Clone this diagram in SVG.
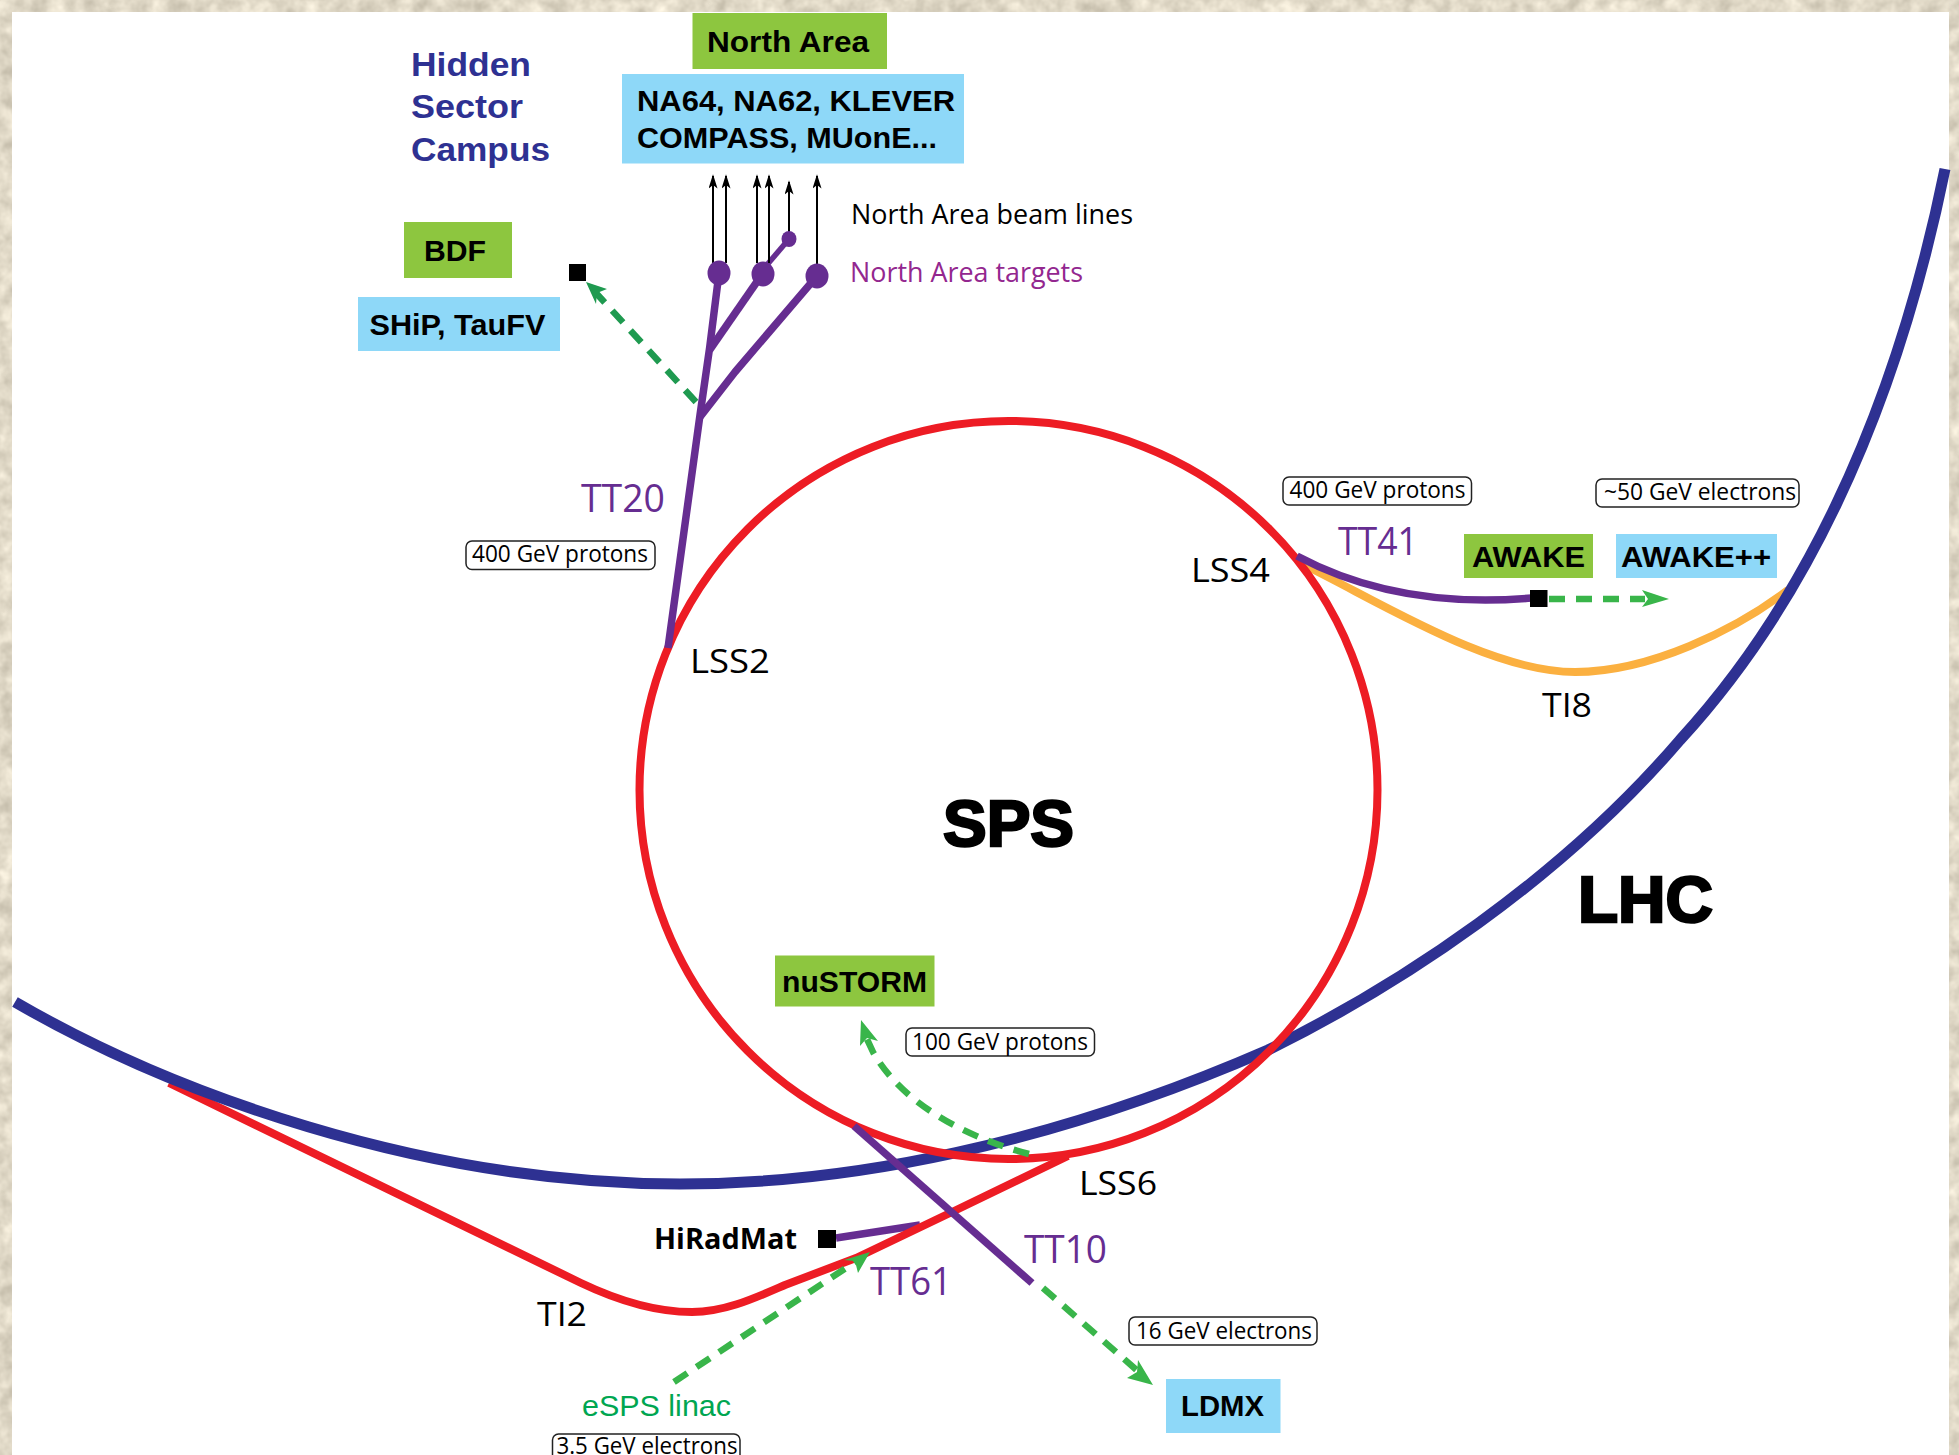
<svg xmlns="http://www.w3.org/2000/svg" width="1959" height="1455" viewBox="0 0 1959 1455">
<style>
.m{font-family:"Open Sans","Noto Sans",sans-serif}
.b{font-family:"Liberation Sans",Arial,sans-serif;font-weight:bold;fill:#000}
.g{fill:#8dc63f}.c{fill:#8ed8f8}
.pl{font-size:38px;fill:#662d91}
.lb{font-size:33px;fill:#000}
.en{font-size:24px;fill:#000}
.box{fill:#fff;stroke:#222;stroke-width:1.5}
.ln{fill:none;stroke-linecap:butt;stroke-linejoin:round}
.red{stroke:#ed1c24;stroke-width:8}
.blue{stroke:#2e3192;stroke-width:11}
.pur{stroke:#662d91;stroke-width:7.5}
.org{stroke:#fbb040;stroke-width:8}
.gd{stroke:#39b54a;stroke-width:6.5;stroke-dasharray:16 11}
.bk{stroke:#000;stroke-width:2}
</style>
<defs>
<marker id="ah" markerUnits="userSpaceOnUse" markerWidth="16" markerHeight="9" refX="14" refY="5" orient="auto" viewBox="0 0 16 10"><path d="M16,5 L0,0 L4,5 L0,10Z" fill="#000"/></marker>
<filter id="mottle" x="0" y="0" width="100%" height="100%" color-interpolation-filters="sRGB"><feTurbulence type="fractalNoise" baseFrequency="0.06" numOctaves="3" seed="4"/><feColorMatrix type="matrix" values="0.3 0 0 0 0.73 0.3 0 0 0 0.7 0.3 0 0 0 0.63 0 0 0 0 1"/></filter>
</defs>
<rect id="frame" width="1959" height="1455" fill="#e5decf" filter="url(#mottle)"/>
<rect id="paper" x="12" y="12" width="1937" height="1443" fill="#fff"/>

<g id="connectors">
<path id="TT61" class="ln pur" d="M836,1238 L920,1225"/>
<path id="TI8" class="ln org" d="M1304,565 C1380,602 1490,672 1575,672 C1650,672 1735,630 1788,590"/>
<path id="TI2" class="ln red" d="M169,1083 L581,1283 C625,1304 660,1312 692,1312 C725,1312 755,1298 785,1285 L856,1258 L950,1213 L1068,1156"/>
<path id="LHC" class="ln blue" d="M15,1002 C170,1092 420,1184 680,1184 C850,1184 1050,1145 1268,1050 C1400,985 1560,880 1680,740 C1795,615 1892,430 1945,169"/>
<circle id="SPS-ring" class="ln red" cx="1008.5" cy="790" r="369"/>
<path id="TT20" class="ln pur" d="M668,648 L700,415 L709.6,348 L719,273"/>
<path id="TT20-b1" class="ln pur" d="M709.6,350 L763,273"/>
<path id="TT20-b2" class="ln pur" d="M700,417 L735,372 L817,276"/>
<path id="TT20-b3" class="ln" stroke="#662d91" stroke-width="5.500" d="M766,266 L789,239"/>
<path id="TT41" class="ln pur" d="M1297,556 C1370,595 1450,605 1532,598"/>
<path id="TT10" class="ln pur" d="M854,1126 L1032,1283"/>
<g id="beamlines" class="ln bk">
<path marker-end="url(#ah)" d="M713,263 V176"/>
<path marker-end="url(#ah)" d="M726,263 V176"/>
<path marker-end="url(#ah)" d="M757,263 V176"/>
<path marker-end="url(#ah)" d="M769,263 V176"/>
<path marker-end="url(#ah)" d="M789,239 V182"/>
<path marker-end="url(#ah)" d="M817,266 V176"/>
</g>
<g id="targets" fill="#662d91">
<ellipse cx="719" cy="273" rx="11.500" ry="12.500"/><ellipse cx="763" cy="274" rx="11.500" ry="12.500"/><ellipse cx="817" cy="276" rx="11.500" ry="12.500"/><ellipse cx="789" cy="239" rx="7.500" ry="8"/>
</g>
<g id="green-arrows">
<path class="ln gd" style="stroke:#1f9a50" d="M696,402 L596,293"/><path fill="#1f9a50" d="M586,282 L607,289 L597,293 L596,304Z"/>
<path class="ln gd" d="M1549,599 H1645"/><path fill="#39b54a" d="M1669,599 L1642,590 L1648,599 L1642,607Z"/>
<path class="ln gd" d="M1029,1154 C960,1136 900,1100 873,1052 L866,1037"/><path fill="#39b54a" d="M861,1020 L878,1041 L867,1038 L860,1046Z"/>
<path class="ln gd" d="M1043,1288 L1140,1373"/><path fill="#39b54a" d="M1153,1385 L1127,1378 L1137,1372 L1138,1360Z"/>
<path class="ln gd" d="M674,1382 L858,1260"/><path fill="#39b54a" d="M870,1252 L858,1273 L855,1261 L844,1260Z"/>
</g>
</g>

<g id="hidden-sector"><text class="b" style="fill:#2e3192" font-size="34" x="411" y="76" textLength="120" lengthAdjust="spacingAndGlyphs">Hidden</text><text class="b" style="fill:#2e3192" font-size="34" x="411" y="118" textLength="112" lengthAdjust="spacingAndGlyphs">Sector</text><text class="b" style="fill:#2e3192" font-size="34" x="411" y="161" textLength="139" lengthAdjust="spacingAndGlyphs">Campus</text></g>
<g id="north-area"><rect class="g" x="692.500" y="13" width="194.500" height="56"/><text class="b" font-size="29" x="707" y="52" textLength="162" lengthAdjust="spacingAndGlyphs">North Area</text></g>
<g id="na-experiments"><rect class="c" x="622" y="74" width="342" height="89.500"/><text class="b" font-size="29" x="637" y="111" textLength="318" lengthAdjust="spacingAndGlyphs">NA64, NA62, KLEVER</text><text class="b" font-size="29" x="637" y="148" textLength="300" lengthAdjust="spacingAndGlyphs">COMPASS, MUonE...</text></g>
<g id="bdf"><rect class="g" x="404" y="222" width="108" height="56"/><text class="b" font-size="29" x="424" y="261" textLength="62" lengthAdjust="spacingAndGlyphs">BDF</text><rect x="569" y="264" width="17" height="17" fill="#000"/></g>
<g id="ship"><rect class="c" x="358" y="297" width="202" height="54"/><text class="b" font-size="29" x="369.500" y="335" textLength="176" lengthAdjust="spacingAndGlyphs">SHiP, TauFV</text></g>
<g id="na-labels"><text class="m" font-size="28" x="851" y="224" fill="#000" textLength="282" lengthAdjust="spacingAndGlyphs">North Area beam lines</text><text class="m" font-size="28" x="850" y="282" fill="#93278f" textLength="233" lengthAdjust="spacingAndGlyphs">North Area targets</text></g>
<g id="tt20-label"><text class="m pl" x="581" y="512" textLength="84" lengthAdjust="spacingAndGlyphs">TT20</text></g>
<g id="e400-left"><rect class="box" x="466" y="541" width="189" height="28.500" rx="6"/><text class="m en" x="472" y="562" textLength="176" lengthAdjust="spacingAndGlyphs">400 GeV protons</text></g>
<g id="lss2"><text class="m lb" x="690" y="673" textLength="80" lengthAdjust="spacingAndGlyphs">LSS2</text></g>
<g id="e400-right"><rect class="box" x="1283" y="477" width="188.500" height="28" rx="6"/><text class="m en" x="1289.500" y="498" textLength="176" lengthAdjust="spacingAndGlyphs">400 GeV protons</text></g>
<g id="e50"><rect class="box" x="1596" y="479" width="203" height="28" rx="6"/><text class="m en" x="1604" y="500" textLength="192" lengthAdjust="spacingAndGlyphs">~50 GeV electrons</text></g>
<g id="tt41-label"><text class="m pl" x="1338" y="555" textLength="80" lengthAdjust="spacingAndGlyphs">TT41</text></g>
<g id="lss4"><text class="m lb" x="1191" y="582" textLength="79" lengthAdjust="spacingAndGlyphs">LSS4</text></g>
<g id="awake"><rect class="g" x="1464" y="534" width="129" height="44"/><text class="b" font-size="29" x="1472" y="567" textLength="113" lengthAdjust="spacingAndGlyphs">AWAKE</text><rect x="1530" y="590" width="17.500" height="17" fill="#000"/></g>
<g id="awakepp"><rect class="c" x="1616" y="534" width="161" height="44"/><text class="b" font-size="29" x="1621" y="567" textLength="150" lengthAdjust="spacingAndGlyphs">AWAKE++</text></g>
<g id="ti8-label"><text class="m lb" x="1542" y="717" textLength="50" lengthAdjust="spacingAndGlyphs">TI8</text></g>
<g id="sps-label"><text class="b" font-size="64" x="943" y="846" textLength="131" lengthAdjust="spacingAndGlyphs" stroke="#000" stroke-width="2.500">SPS</text></g>
<g id="lhc-label"><text class="b" font-size="64" x="1578" y="922" textLength="135" lengthAdjust="spacingAndGlyphs" stroke="#000" stroke-width="2.500">LHC</text></g>
<g id="nustorm"><rect class="g" x="775" y="955.500" width="159.500" height="51"/><text class="b" font-size="29" x="782" y="992" textLength="145" lengthAdjust="spacingAndGlyphs">nuSTORM</text></g>
<g id="e100"><rect class="box" x="906" y="1028" width="188.500" height="28" rx="6"/><text class="m en" x="912" y="1050" textLength="176" lengthAdjust="spacingAndGlyphs">100 GeV protons</text></g>
<g id="lss6"><text class="m lb" x="1079" y="1195" textLength="78" lengthAdjust="spacingAndGlyphs">LSS6</text></g>
<g id="tt10-label"><text class="m pl" x="1024" y="1263" textLength="83" lengthAdjust="spacingAndGlyphs">TT10</text></g>
<g id="tt61-label"><text class="m pl" x="870" y="1295" textLength="82" lengthAdjust="spacingAndGlyphs">TT61</text></g>
<g id="hiradmat"><text class="m" font-size="29" font-weight="700" x="654" y="1249" fill="#000" textLength="143" lengthAdjust="spacingAndGlyphs">HiRadMat</text><rect x="818" y="1230" width="18" height="18" fill="#000"/></g>
<g id="ti2-label"><text class="m lb" x="537" y="1326" textLength="50" lengthAdjust="spacingAndGlyphs">TI2</text></g>
<g id="esps"><text font-family="Liberation Sans, Arial, sans-serif" font-size="30" x="582" y="1416" fill="#00a651" textLength="149" lengthAdjust="spacingAndGlyphs">eSPS linac</text></g>
<g id="e35"><rect class="box" x="552.500" y="1434" width="187.500" height="30" rx="6"/><text class="m en" x="556.500" y="1454" textLength="181" lengthAdjust="spacingAndGlyphs">3.5 GeV electrons</text></g>
<g id="e16"><rect class="box" x="1129" y="1317" width="188" height="28" rx="6"/><text class="m en" x="1136" y="1339" textLength="176" lengthAdjust="spacingAndGlyphs">16 GeV electrons</text></g>
<g id="ldmx"><rect class="c" x="1166" y="1379" width="114.500" height="54"/><text class="b" font-size="29" x="1181" y="1416" textLength="83" lengthAdjust="spacingAndGlyphs">LDMX</text></g>
</svg>
